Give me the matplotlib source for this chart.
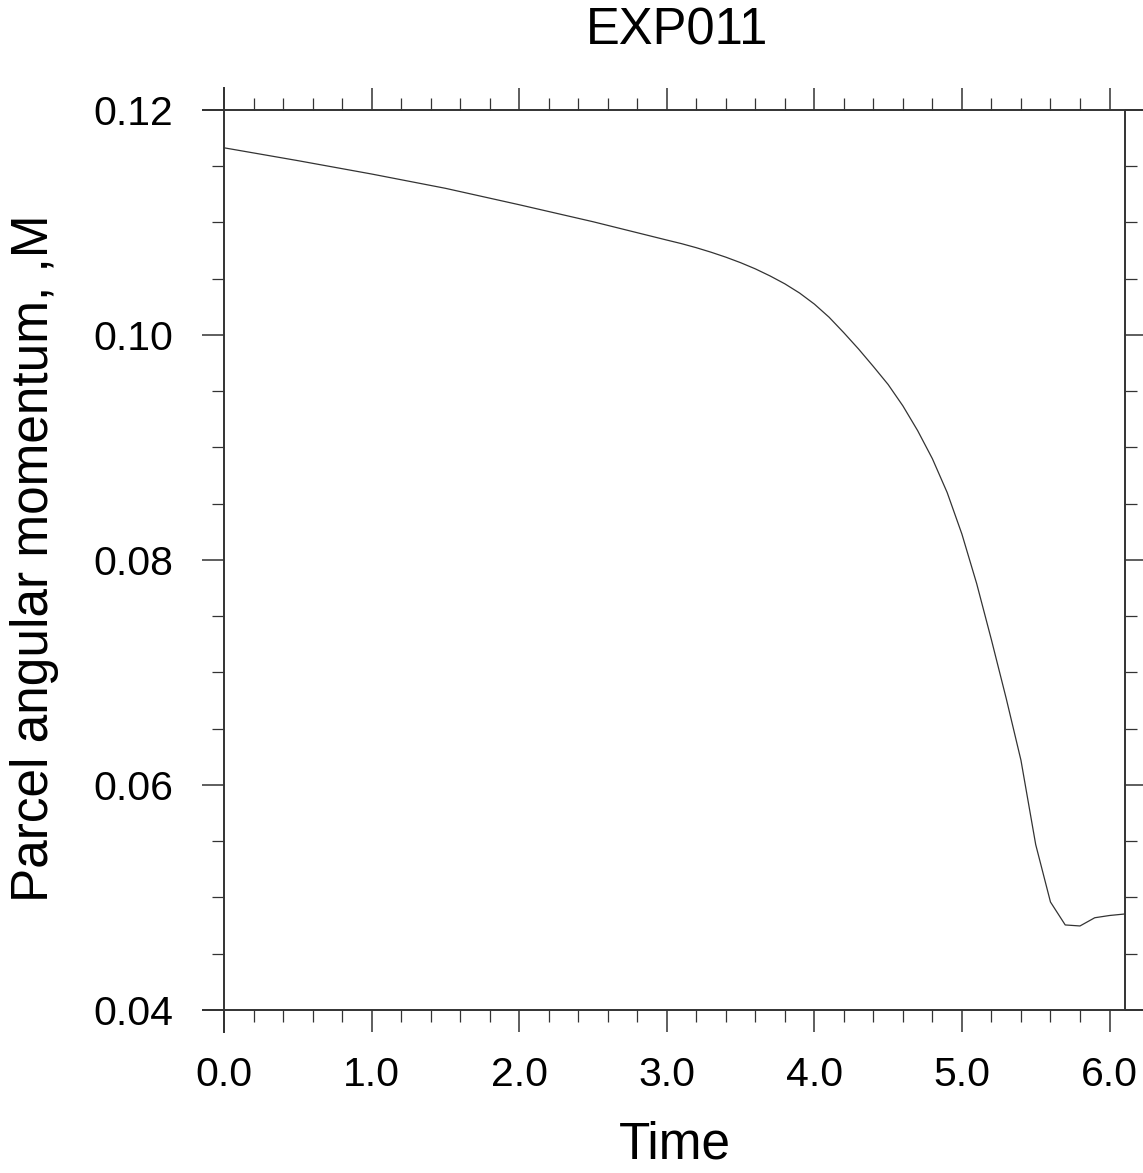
import matplotlib
matplotlib.use("Agg")
import matplotlib.pyplot as plt
from matplotlib.lines import Line2D
from matplotlib.ticker import MultipleLocator, FixedLocator

plt.rcParams['font.family'] = ['Liberation Sans', 'DejaVu Sans']

title = "EXP011"
xlabel = "Time"
ylabel = "Parcel angular momentum, ,M"

time = [0.0, 0.5, 1.0, 1.5, 2.0, 2.5, 3.0, 3.1, 3.2, 3.3, 3.4, 3.5, 3.6,
        3.7, 3.8, 3.9, 4.0, 4.1, 4.2, 4.3, 4.4, 4.5, 4.6, 4.7, 4.8, 4.9,
        5.0, 5.1, 5.2, 5.3, 5.4, 5.5, 5.6, 5.7, 5.8, 5.9, 6.0, 6.1]
momentum = [0.11664, 0.11550, 0.11431, 0.11304, 0.11158, 0.11007, 0.10844,
            0.10812, 0.10776, 0.10736, 0.10692, 0.10643, 0.10588, 0.10525,
            0.10455, 0.10373, 0.10275, 0.10158, 0.10020, 0.09875, 0.09720,
            0.09560, 0.09370, 0.09150, 0.08900, 0.08600, 0.08230, 0.07790,
            0.07290, 0.06770, 0.06220, 0.05470, 0.04960, 0.04756, 0.04747,
            0.04820, 0.04840, 0.04853]

xticks = [0.0, 1.0, 2.0, 3.0, 4.0, 5.0, 6.0]
xticklabels = ["0.0", "1.0", "2.0", "3.0", "4.0", "5.0", "6.0"]
yticks = [0.04, 0.06, 0.08, 0.10, 0.12]
yticklabels = ["0.04", "0.06", "0.08", "0.10", "0.12"]

W, H = 1143, 1173
fig = plt.figure(figsize=(W / 100, H / 100), dpi=100)
L, R, T, B = 224, 1125, 110, 1010
ax = fig.add_axes([L / W, (H - B) / H, (R - L) / W, (B - T) / H])

ax.plot(time, momentum, color='#333333', lw=0.9)
ax.set_xlim(0, 6.105)
ax.set_ylim(0.04, 0.12)

ax.xaxis.set_major_locator(FixedLocator(xticks))
ax.set_xticklabels(xticklabels)
ax.xaxis.set_minor_locator(MultipleLocator(0.2))
ax.yaxis.set_major_locator(FixedLocator(yticks))
ax.set_yticklabels(yticklabels)
ax.yaxis.set_minor_locator(MultipleLocator(0.005))

for s in ax.spines.values():
    s.set_visible(False)

ax.tick_params(which='both', direction='out', top=True, right=True,
               color='#333333')
ax.tick_params(which='major', length=15.8, width=1.1, labelsize=29.5)
ax.tick_params(which='minor', length=8.6, width=0.9)
ax.tick_params(axis='x', which='major', pad=17)
ax.tick_params(axis='y', which='major', pad=21)

# frame lines (extended like the reference)
lw = 1.4
c = '#333333'
def fl(x0, y0, x1, y1):
    fig.add_artist(Line2D([x0 / W, x1 / W], [1 - y0 / H, 1 - y1 / H],
                          transform=fig.transFigure, color=c, lw=lw,
                          solid_capstyle='butt'))
fl(202, T, W, T)
fl(202, B, W, B)
fl(L, 87, L, 1033)
fl(R, T, R, B)

fig.text(677 / W, 1 - 31 / H, title, ha='center', va='center', fontsize=36.5)
fig.text(675 / W, 1 - 1145 / H, xlabel, ha='center', va='center', fontsize=37)
fig.text(35 / W, 1 - 558 / H, ylabel, ha='center', va='center', fontsize=37,
         rotation=90)

fig.savefig("out.png", dpi=100)
